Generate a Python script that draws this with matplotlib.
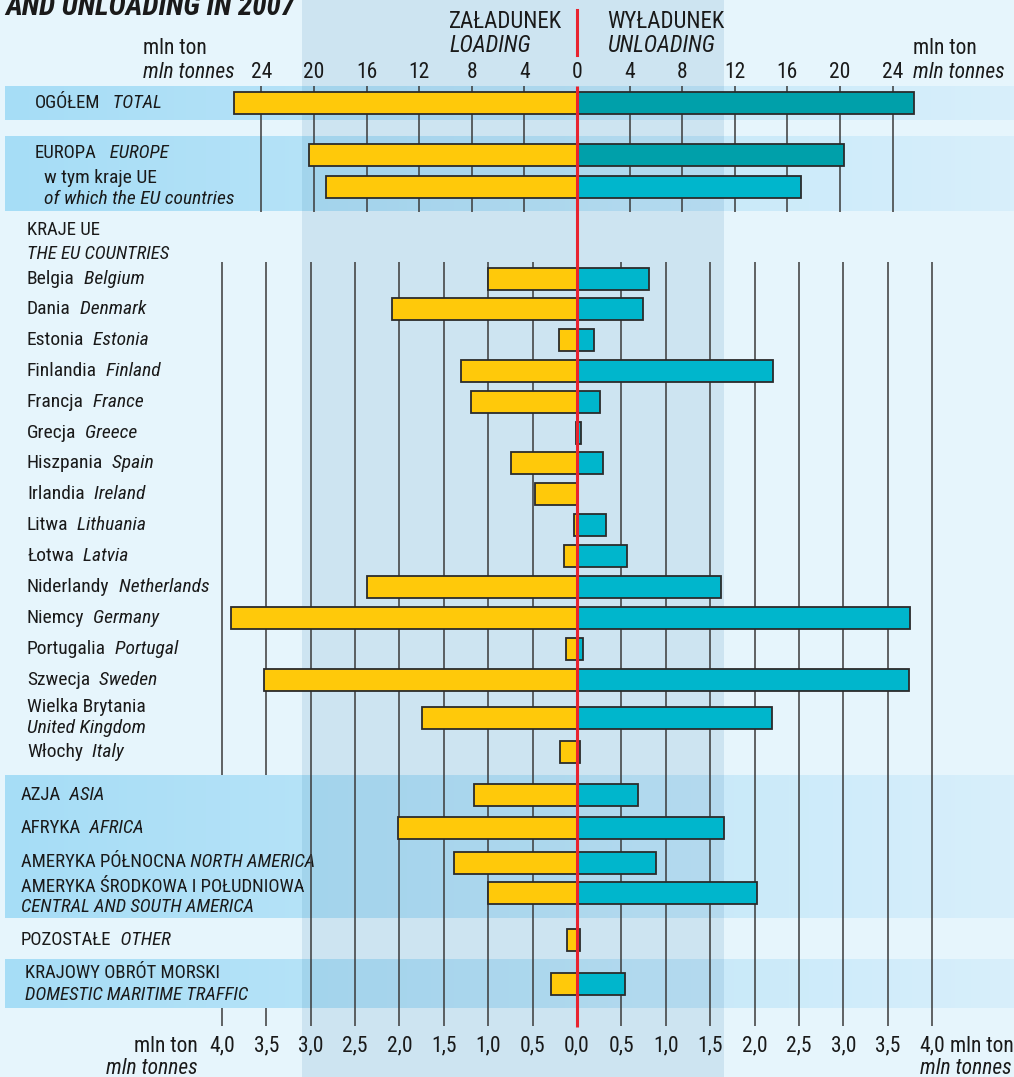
import numpy as np
import matplotlib.pyplot as plt

plt.rcParams['font.family'] = ['Roboto Condensed', 'Archivo Narrow', 'Liberation Sans Narrow',
                               'Roboto', 'DejaVu Sans']

# upper block, mln tonnes
top_pl = ['OGÓŁEM', 'EUROPA', 'w tym kraje UE']
top_en = ['TOTAL', 'EUROPE', 'of which the EU countries']
top_loading = [26.1, 20.4, 19.1]
top_unloading = [25.6, 20.3, 17.0]
top_ticks = [4, 8, 12, 16, 20, 24]

# EU countries, mln tonnes
eu_pl = ['Belgia', 'Dania', 'Estonia', 'Finlandia', 'Francja', 'Grecja', 'Hiszpania',
         'Irlandia', 'Litwa', 'Łotwa', 'Niderlandy', 'Niemcy', 'Portugalia', 'Szwecja',
         'Wielka Brytania', 'Włochy']
eu_en = ['Belgium', 'Denmark', 'Estonia', 'Finland', 'France', 'Greece', 'Spain',
         'Ireland', 'Lithuania', 'Latvia', 'Netherlands', 'Germany', 'Portugal', 'Sweden',
         'United Kingdom', 'Italy']
eu_loading = [1.00, 2.08, 0.20, 1.31, 1.19, 0.01, 0.74, 0.47, 0.03, 0.15, 2.36, 3.90,
              0.12, 3.52, 1.75, 0.19]
eu_unloading = [0.81, 0.74, 0.19, 2.21, 0.26, 0.04, 0.29, 0.01, 0.33, 0.56, 1.62, 3.75,
                0.07, 3.74, 2.20, 0.03]

# other regions, mln tonnes
reg_pl = ['AZJA', 'AFRYKA', 'AMERYKA PÓŁNOCNA', 'AMERYKA ŚRODKOWA I POŁUDNIOWA',
          'POZOSTAŁE', 'KRAJOWY OBRÓT MORSKI']
reg_en = ['ASIA', 'AFRICA', 'NORTH AMERICA', 'CENTRAL AND SOUTH AMERICA', 'OTHER',
          'DOMESTIC MARITIME TRAFFIC']
reg_loading = [1.16, 2.02, 1.39, 1.00, 0.11, 0.29]
reg_unloading = [0.69, 1.66, 0.89, 2.03, 0.03, 0.54]
low_ticks = [0.5, 1.0, 1.5, 2.0, 2.5, 3.0, 3.5, 4.0]

YELLOW = '#FFC90A'
TEAL = '#00A0AA'
CYAN = '#00B6CC'
RED = '#E8232F'
GRID = '#3a3a3a'
EDGE = '#2b2b2b'
INK = '#1a1a1a'

W, H = 1014, 1077
X0 = 577            # zero line, pixels
TOP_PX = 13.15      # pixels per mln tonnes, upper scale
LOW_PX = 88.8       # pixels per mln tonnes, lower scale
FS = 13.5
TS = 15.5

fig = plt.figure(figsize=(W / 100, H / 100), dpi=100)
fig.patch.set_facecolor('#E6F5FC')

# background: bands and the shaded middle column
bg = fig.add_axes([0, 0, 1, 1], zorder=0)
bg.set_xlim(0, W)
bg.set_ylim(H, 0)
bg.axis('off')
left_c = np.array([166, 221, 246]) / 255
right_c = np.array([216, 239, 251]) / 255
grad = np.linspace(0, 1, 256)[None, :, None] * (right_c - left_c) + left_c
for y0, y1 in [(86, 120), (136, 211), (775, 918), (959, 1008)]:
    bg.imshow(grad, extent=(5, W, y1, y0), aspect='auto', zorder=2)
bg.set_xlim(0, W)
bg.set_ylim(H, 0)
bg.axvspan(302, 724, color='#3F84B3', alpha=0.15, lw=0, zorder=3)
bg.plot([X0, X0], [10, 55], color=RED, lw=2.2, zorder=4)


def label(x, y, pl, en, gap=' ', two_lines=False, dy=21, fs=FS):
    if two_lines:
        bg.text(x, y, pl, fontsize=fs, va='center', ha='left', color=INK, zorder=6)
        bg.text(x, y + dy, en, fontsize=fs, va='center', ha='left', style='italic',
                color=INK, zorder=6)
    else:
        t = bg.text(x, y, pl, fontsize=fs, va='center', ha='left', color=INK, zorder=6)
        bg.annotate(gap + en, xy=(1, 0), xycoords=t, va='bottom', ha='left',
                    fontsize=fs, style='italic', color=INK, zorder=6)


# header texts
bg.text(5, 15, 'AND UNLOADING IN 2007', fontsize=21, fontweight='bold', style='italic',
        color=INK, va='baseline')
bg.text(449, 21, 'ZAŁADUNEK', fontsize=16.5, va='center', color=INK)
bg.text(449, 45, 'LOADING', fontsize=16.5, va='center', style='italic', color=INK)
bg.text(607, 21, 'WYŁADUNEK', fontsize=16.5, va='center', color=INK)
bg.text(607, 45, 'UNLOADING', fontsize=16.5, va='center', style='italic', color=INK)
for xx in (143, 913):
    bg.text(xx, 49, 'mln ton', fontsize=TS, va='center', color=INK)
    bg.text(xx, 72, 'mln tonnes', fontsize=TS, va='center', style='italic', color=INK)
bg.text(198, 1046, 'mln ton', fontsize=TS, va='center', ha='right', color=INK)
bg.text(198, 1068, 'mln tonnes', fontsize=TS, va='center', ha='right', style='italic',
        color=INK)
bg.text(950, 1046, 'mln ton', fontsize=TS, va='center', ha='left', color=INK)
bg.text(1012, 1068, 'mln tonnes', fontsize=TS, va='center', ha='right', style='italic',
        color=INK)

# upper block axes
at = fig.add_axes([0, 0, 1, 1], zorder=1)
at.patch.set_alpha(0)
at.axis('off')
at.set_xlim(-X0 / TOP_PX, (W - X0) / TOP_PX)
at.set_ylim(H, 0)
top_rows = [103, 155, 187]
top_colors = [TEAL, TEAL, CYAN]
for t in top_ticks:
    at.vlines([-t, t], 86, 212, color=GRID, lw=1.1, zorder=1)
at.text(0, 72, '0', fontsize=TS, ha='center', va='center', color=INK)
for t in top_ticks:
    for s in (-1, 1):
        at.text(s * t, 72, str(t), fontsize=TS, ha='center', va='center', color=INK)
at.barh(top_rows, [-v for v in top_loading], height=22, color=YELLOW, edgecolor=EDGE,
        lw=1.3, zorder=3)
at.barh(top_rows, top_unloading, height=22, color=top_colors, edgecolor=EDGE, lw=1.3,
        zorder=3)
label(35, 103, top_pl[0], top_en[0], gap='   ')
label(35, 153, top_pl[1], top_en[1], gap='   ')
label(44, 178, top_pl[2], top_en[2], two_lines=True, fs=14)

# lower block axes
ab = fig.add_axes([0, 0, 1, 1], zorder=2)
ab.patch.set_alpha(0)
ab.axis('off')
ab.set_xlim(-X0 / LOW_PX, (W - X0) / LOW_PX)
ab.set_ylim(H, 0)
eu_rows = [279, 309, 340, 371, 402, 433, 463, 494, 525, 556, 587, 618, 649, 680, 718, 752]
reg_rows = [795, 828, 863, 893, 940, 984]
for t in low_ticks:
    ab.vlines(t, 262, 1026, color=GRID, lw=1.1, zorder=1)
    if X0 - t * LOW_PX < 302:
        # hidden behind the label column of the region bands
        ab.vlines(-t, 262, 775, color=GRID, lw=1.1, zorder=1)
        ab.vlines(-t, 1008, 1026, color=GRID, lw=1.1, zorder=1)
    else:
        ab.vlines(-t, 262, 1026, color=GRID, lw=1.1, zorder=1)
ab.text(0, 1046, '0,0', fontsize=TS, ha='center', va='center', color=INK)
for t in low_ticks:
    lab = f'{t:.1f}'.replace('.', ',')
    for s in (-1, 1):
        ab.text(s * t, 1046, lab, fontsize=TS, ha='center', va='center', color=INK)
rows = eu_rows + reg_rows
loading = eu_loading + reg_loading
unloading = eu_unloading + reg_unloading
ab.barh(rows, [-v for v in loading], height=22, color=YELLOW, edgecolor=EDGE, lw=1.3,
        zorder=3)
ab.barh(rows, unloading, height=22, color=CYAN, edgecolor=EDGE, lw=1.3, zorder=3)
ab.vlines(0, 86, 1027, color=RED, lw=2.2, zorder=5)

label(27, 230, 'KRAJE UE', 'THE EU COUNTRIES', two_lines=True, dy=24)
for i, (pl, en) in enumerate(zip(eu_pl, eu_en)):
    if pl == 'Wielka Brytania':
        label(27, 707, pl, en, two_lines=True, fs=14)
    else:
        label(27, eu_rows[i], pl, en, gap='  ', fs=14)
label(21, 795, reg_pl[0], reg_en[0], gap='  ')
label(21, 828, reg_pl[1], reg_en[1], gap='  ')
label(21, 862, reg_pl[2], reg_en[2])
label(21, 887, reg_pl[3], reg_en[3], two_lines=True, dy=20)
label(21, 940, reg_pl[4], reg_en[4], gap='  ')
label(25, 973, reg_pl[5], reg_en[5], two_lines=True, dy=22)

fig.savefig('out.png', dpi=100, facecolor=fig.get_facecolor())
